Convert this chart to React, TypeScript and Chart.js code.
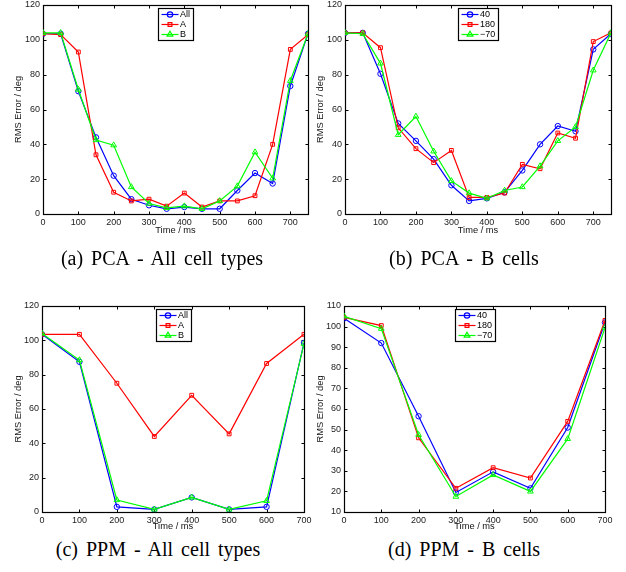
import React, { useEffect, useRef } from 'react';
import { Chart, registerables } from 'chart.js';
import { drawPoint } from 'chart.js/helpers';

Chart.register(...registerables);

// ---------- data ----------
const TIME_PCA = [0, 50, 100, 150, 200, 250, 300, 350, 400, 450, 500, 550, 600, 650, 700, 750];
const TIME_PPM = [0, 100, 200, 300, 400, 500, 600, 700];

const X_TICKS = [0, 100, 200, 300, 400, 500, 600, 700];
const Y_TICKS_120 = [0, 20, 40, 60, 80, 100, 120];
const Y_TICKS_110 = [10, 20, 30, 40, 50, 60, 70, 80, 90, 100, 110];

const LABELS_CELLTYPE = ['All', 'A', 'B'];
const LABELS_ANGLE = ['40', '180', '\u221270'];

const PCA_ALL_ALL = [103.5, 103.5, 70.5, 44, 22, 8.5, 5, 3, 4, 3, 3, 13.5, 23.5, 17.5, 73.5, 103.5];
const PCA_ALL_A = [103.5, 103, 93, 34, 12.5, 7.5, 8.5, 4.5, 12, 4, 7.5, 7.5, 10.5, 40, 94.5, 103];
const PCA_ALL_B = [104, 104, 71.5, 42.5, 39.5, 15.5, 6, 3.5, 4.5, 3, 7.5, 16, 35.5, 20.5, 76.5, 103.5];

const PCA_B_40 = [104, 104, 80.5, 52, 42, 31.5, 16.5, 7.5, 9, 12.5, 25, 40, 50.5, 47.5, 94.5, 103.5];
const PCA_B_180 = [104, 104, 95.5, 49.5, 37.5, 29.5, 36.5, 9.5, 9.5, 12, 28.5, 26, 46.5, 43.5, 99, 104];
const PCA_B_M70 = [104, 103.5, 86.5, 45.5, 56, 36, 19, 12, 9, 13.5, 15.5, 27.5, 42, 50, 82.5, 104];

const PPM_ALL_ALL = [103.5, 87.5, 3, 1.5, 8.5, 1.5, 3, 98.5];
const PPM_ALL_A = [103.5, 103.5, 75, 44, 68, 45.5, 86.5, 103.5];
const PPM_ALL_B = [104, 88.5, 7, 1.5, 8.5, 1.5, 6.5, 98];

const PPM_B_40 = [104, 92, 56.5, 19.5, 29.5, 21.5, 51, 102];
const PPM_B_180 = [104.5, 100.5, 46, 21.5, 31.5, 26.5, 54, 103];
const PPM_B_M70 = [105, 99, 47.5, 17.5, 28, 20, 45.5, 99.5];

// ---------- styles ----------
const COLORS = ['#0000ff', '#ff0000', '#00ff00'];
const STYLES = ['circle', 'rect', 'triangle'];
const RADII = [2.7, 2.7, 3.3];
const SANS = '"Liberation Sans", Arial, sans-serif';

const boxTicks = {
  id: 'boxTicks',
  beforeDatasetsDraw(chart: any) {
    const { ctx, chartArea: a, scales } = chart;
    const x = scales.x, y = scales.y;
    ctx.save();
    ctx.strokeStyle = '#000';
    ctx.lineWidth = 1;
    const L = Math.round(a.left) + 0.5, R = Math.round(a.right) + 0.5;
    const T = Math.round(a.top) + 0.5, B = Math.round(a.bottom) + 0.5;
    ctx.beginPath();
    x.ticks.forEach((t: any) => {
      const px = Math.round(x.getPixelForValue(t.value)) + 0.5;
      ctx.moveTo(px, B); ctx.lineTo(px, B - 3);
      ctx.moveTo(px, T); ctx.lineTo(px, T + 3);
    });
    y.ticks.forEach((t: any) => {
      const py = Math.round(y.getPixelForValue(t.value)) + 0.5;
      ctx.moveTo(L, py); ctx.lineTo(L + 3, py);
      ctx.moveTo(R, py); ctx.lineTo(R - 3, py);
    });
    ctx.stroke();
    ctx.lineWidth = 1.2;
    ctx.strokeRect(L, T, R - L, B - T);
    ctx.restore();
  },
};

const boxLegend = {
  id: 'boxLegend',
  afterDatasetsDraw(chart: any) {
    const { ctx, chartArea } = chart;
    const ds = chart.data.datasets;
    ctx.save();
    ctx.font = '9px ' + SANS;
    const textW = Math.max(...ds.map((d: any) => ctx.measureText(d.label).width));
    const padL = 3, sample = 17, gap = 1.5, padR = 3, rowH = 10;
    const w = Math.round(padL + sample + gap + textW + padR);
    const h = ds.length * rowH + 2;
    const x0 = Math.round((chartArea.left + chartArea.right) / 2 - w / 2) + 0.5;
    const y0 = Math.round(chartArea.top) + 3 + 0.5;
    ctx.fillStyle = '#fff';
    ctx.fillRect(x0, y0, w, h);
    ctx.strokeStyle = '#000';
    ctx.lineWidth = 1.2;
    ctx.strokeRect(x0, y0, w, h);
    ds.forEach((d: any, i: number) => {
      const cy = y0 + 1 + rowH / 2 + i * rowH;
      ctx.strokeStyle = d.borderColor;
      ctx.lineWidth = d.borderWidth;
      ctx.beginPath();
      ctx.moveTo(x0 + padL, cy);
      ctx.lineTo(x0 + padL + sample, cy);
      ctx.stroke();
      ctx.fillStyle = 'rgba(0,0,0,0)';
      drawPoint(ctx, { pointStyle: d.pointStyle, radius: d.pointRadius, rotation: 0, borderWidth: 1 }, x0 + padL + sample / 2, cy);
      ctx.fillStyle = '#000';
      ctx.textBaseline = 'middle';
      ctx.textAlign = 'left';
      ctx.fillText(d.label, x0 + padL + sample + gap, cy + 0.5);
    });
    ctx.restore();
  },
};

type Panel = {
  left: number; top: number; w: number; h: number;
  area: { left: number; top: number; right: number; bottom: number };
  times: number[]; series: number[][]; labels: string[];
  xMax: number; yMin: number; yMax: number; yTicks: number[];
  yTitlePad: number; xTitlePad: number;
  caption: string; capX: number; capY: number;
};

const PANELS: Panel[] = [
  {
    left: 0, top: 0, w: 313, h: 250,
    area: { left: 43, top: 5, right: 309, bottom: 214 },
    times: TIME_PCA, series: [PCA_ALL_ALL, PCA_ALL_A, PCA_ALL_B], labels: LABELS_CELLTYPE,
    xMax: 750, yMin: 0, yMax: 120, yTicks: Y_TICKS_120, yTitlePad: 13, xTitlePad: 13.5,
    caption: '(a) PCA - All cell types', capX: 162, capY: 258,
  },
  {
    left: 313, top: 0, w: 313, h: 250,
    area: { left: 32, top: 5, right: 298, bottom: 214 },
    times: TIME_PCA, series: [PCA_B_40, PCA_B_180, PCA_B_M70], labels: LABELS_ANGLE,
    xMax: 750, yMin: 0, yMax: 120, yTicks: Y_TICKS_120, yTitlePad: 1.5, xTitlePad: 13.5,
    caption: '(b) PCA - B cells', capX: 464, capY: 258,
  },
  {
    left: 0, top: 286, w: 313, h: 250,
    area: { left: 42, top: 20, right: 304, bottom: 226 },
    times: TIME_PPM, series: [PPM_ALL_ALL, PPM_ALL_A, PPM_ALL_B], labels: LABELS_CELLTYPE,
    xMax: 700, yMin: 0, yMax: 120, yTicks: Y_TICKS_120, yTitlePad: 13, xTitlePad: 3.5,
    caption: '(c) PPM - All cell types', capX: 158, capY: 549,
  },
  {
    left: 313, top: 286, w: 313, h: 250,
    area: { left: 31, top: 20, right: 292, bottom: 226 },
    times: TIME_PPM, series: [PPM_B_40, PPM_B_180, PPM_B_M70], labels: LABELS_ANGLE,
    xMax: 700, yMin: 10, yMax: 110, yTicks: Y_TICKS_110, yTitlePad: 1.5, xTitlePad: 3.5,
    caption: '(d) PPM - B cells', capX: 464, capY: 549,
  },
];

function makeConfig(p: Panel): any {
  const tickFont = { family: SANS, size: 9 };
  const titleFont = { family: SANS, size: 9.3 };
  return {
    type: 'line',
    data: {
      datasets: p.series.map((vals, i) => ({
        label: p.labels[i],
        data: p.times.map((t, j) => ({ x: t, y: vals[j] })),
        borderColor: COLORS[i],
        backgroundColor: 'rgba(0,0,0,0)',
        borderWidth: 1.2,
        pointStyle: STYLES[i],
        pointRadius: RADII[i],
        pointBorderColor: COLORS[i],
        pointBackgroundColor: 'rgba(0,0,0,0)',
        pointBorderWidth: 1,
        tension: 0,
        fill: false,
        order: 3 - i,
      })),
    },
    options: {
      animation: false,
      responsive: false,
      maintainAspectRatio: false,
      events: [],
      layout: { padding: { left: 0, top: p.area.top, right: p.w - p.area.right, bottom: 0 } },
      plugins: { legend: { display: false }, tooltip: { enabled: false } },
      scales: {
        x: {
          type: 'linear',
          min: 0,
          max: p.xMax,
          afterBuildTicks: (s: any) => { s.ticks = X_TICKS.map((v) => ({ value: v })); },
          afterFit: (s: any) => {
            s.height = p.h - p.area.bottom;
            s.paddingLeft = 0; s.paddingRight = 0; s.paddingTop = 0; s.paddingBottom = 0;
          },
          grid: { display: false, drawTicks: false },
          border: { display: false },
          ticks: { font: tickFont, color: '#222', padding: 3, maxRotation: 0, autoSkip: false },
          title: { display: true, text: 'Time / ms', font: titleFont, color: '#111', padding: { top: 0, bottom: p.xTitlePad } },
        },
        y: {
          type: 'linear',
          min: p.yMin,
          max: p.yMax,
          afterBuildTicks: (s: any) => { s.ticks = p.yTicks.map((v) => ({ value: v })); },
          afterFit: (s: any) => {
            s.width = p.area.left;
            s.paddingLeft = 0; s.paddingRight = 0; s.paddingTop = 0; s.paddingBottom = 0;
          },
          grid: { display: false, drawTicks: false },
          border: { display: false },
          ticks: { font: tickFont, color: '#222', padding: 3, autoSkip: false },
          title: { display: true, text: 'RMS Error / deg', font: titleFont, color: '#111', padding: { top: p.yTitlePad, bottom: 0 } },
        },
      },
    },
    plugins: [boxTicks, boxLegend],
  };
}

function ChartPanel({ p }: { p: Panel }) {
  const ref = useRef<HTMLCanvasElement | null>(null);
  useEffect(() => {
    if (!ref.current) return;
    const chart = new Chart(ref.current, makeConfig(p));
    return () => chart.destroy();
  }, [p]);
  return (
    <canvas
      ref={ref}
      width={p.w}
      height={p.h}
      style={{ position: 'absolute', left: p.left, top: p.top, width: p.w, height: p.h }}
    />
  );
}

export default function App() {
  return (
    <div style={{ position: 'absolute', left: 0, top: 0, width: 626, height: 572, background: '#fff', overflow: 'hidden' }}>
      {PANELS.map((p, i) => (
        <ChartPanel key={i} p={p} />
      ))}
      {PANELS.map((p, i) => (
        <div
          key={'c' + i}
          style={{
            position: 'absolute',
            left: p.capX - 160,
            width: 320,
            top: p.capY - 11,
            height: 22,
            lineHeight: '22px',
            textAlign: 'center',
            fontFamily: '"Liberation Serif", "Times New Roman", serif',
            fontSize: 20,
            wordSpacing: 3,
            color: '#000',
            whiteSpace: 'nowrap',
          }}
        >
          {p.caption}
        </div>
      ))}
    </div>
  );
}
